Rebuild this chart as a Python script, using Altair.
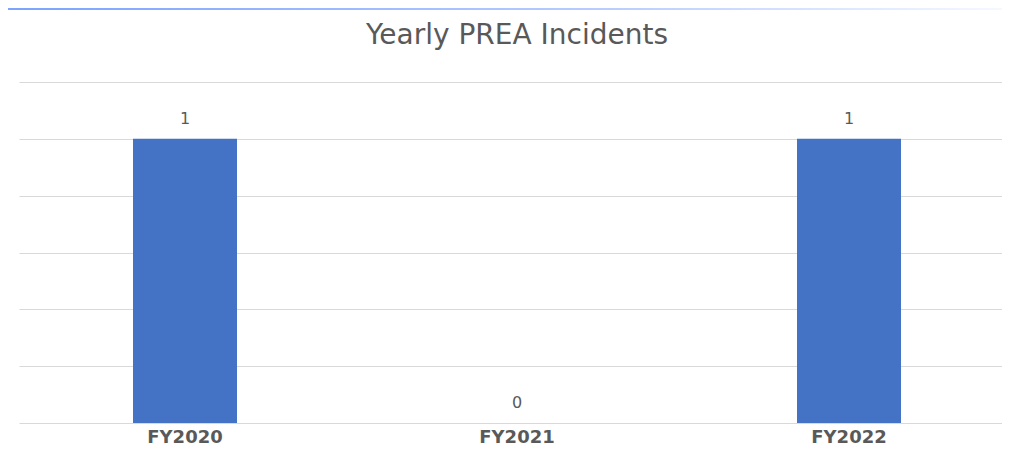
import altair as alt
import pandas as pd

years = ["FY2020", "FY2021", "FY2022"]
incidents = [1, 0, 1]
grid_values = [0, 0.2, 0.4, 0.6, 0.8, 1.0, 1.2]
title_text = "Yearly PREA Incidents"

df = pd.DataFrame({"year": years, "count": incidents})

W, H = 983, 341
BAND_RANGE = 996

x = alt.X("year:N", sort=years, title=None,
          scale=alt.Scale(paddingInner=0, paddingOuter=0, range=[0, BAND_RANGE]),
          axis=alt.Axis(labelAngle=0, ticks=False, domain=False,
                        labelFont="DejaVu Sans", labelFontWeight="bold", labelFontSize=18,
                        labelColor="#595959", labelPadding=5))
y = alt.Y("count:Q", title=None,
          scale=alt.Scale(domain=[0, 1.2], nice=False),
          axis=alt.Axis(values=grid_values, labels=False, ticks=False, domain=False,
                        grid=True, gridColor="#D9D9D9", gridWidth=1))

bars = alt.Chart(df).mark_bar(size=104, color="#4472C4").encode(x=x, y=y)

labels = alt.Chart(df).mark_text(dy=-15, baseline="alphabetic", font="DejaVu Sans",
                                 fontSize=16, color="#595959").encode(
    x=alt.X("year:N", sort=years), y="count:Q", text="count:Q")

one = pd.DataFrame({"t": [title_text]})

frame = alt.Chart(one).mark_rect(
    color=alt.LinearGradient(gradient="linear", x1=0, x2=1, y1=0, y2=0,
                             stops=[alt.GradientStop(color="#7BA3FF", offset=0),
                                    alt.GradientStop(color="#B8CCFF", offset=0.6),
                                    alt.GradientStop(color="#F5F8FF", offset=1)])
).encode(x=alt.value(-11), x2=alt.value(W), y=alt.value(-74), y2=alt.value(-72))

title = alt.Chart(one).mark_text(font="DejaVu Sans", fontSize=28, color="#595959",
                                 baseline="alphabetic", align="center").encode(
    x=alt.value(BAND_RANGE / 2), y=alt.value(-38), text="t:N")

chart = alt.layer(frame, title, bars, labels).properties(
    width=W, height=H,
    autosize=alt.AutoSizeParams(type="none"),
    padding={"left": 11, "top": 74, "right": 0, "bottom": 30},
).configure(background="white").configure_view(stroke=None)

chart.save("out.html", embed_options={"renderer": "svg", "actions": False})
